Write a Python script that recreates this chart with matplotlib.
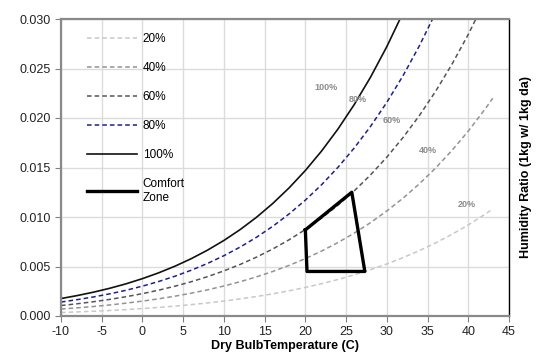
import matplotlib
matplotlib.use("Agg")
import matplotlib.pyplot as plt

plt.rcParams['font.family'] = ['Liberation Sans', 'DejaVu Sans']
plt.rcParams['axes.unicode_minus'] = False

temp = [-10, -8, -6, -4, -2, 0, 2, 4, 6, 8, 10, 12, 14, 16, 18, 20, 22, 24,
        26, 28, 30, 32, 34, 36, 38, 40, 42, 43]

w100 = [0.001764, 0.002065, 0.002409, 0.002803, 0.003254, 0.003775, 0.004364,
        0.005034, 0.005795, 0.006657, 0.007632, 0.008732, 0.009972, 0.011369,
        0.012938, 0.014699, 0.016673, 0.018884, 0.021358, 0.024122, 0.027210,
        0.030655]
w80 = [0.001410, 0.001651, 0.001926, 0.002241, 0.002601, 0.003016, 0.003487,
       0.004021, 0.004627, 0.005314, 0.006091, 0.006966, 0.007952, 0.009062,
       0.010308, 0.011704, 0.013267, 0.015016, 0.016970, 0.019149, 0.021579,
       0.024285, 0.027296, 0.030649]
w60 = [0.001057, 0.001237, 0.001443, 0.001679, 0.001949, 0.002259, 0.002611,
       0.003011, 0.003464, 0.003977, 0.004557, 0.005210, 0.005945, 0.006772,
       0.007699, 0.008737, 0.009898, 0.011194, 0.012641, 0.014252, 0.016045,
       0.018037, 0.020250, 0.022707, 0.025432, 0.028442, 0.031776]
w40 = [0.000704, 0.000824, 0.000961, 0.001118, 0.001298, 0.001504, 0.001738,
       0.002004, 0.002305, 0.002646, 0.003031, 0.003464, 0.003951, 0.004498,
       0.005111, 0.005797, 0.006564, 0.007419, 0.008371, 0.009429, 0.010605,
       0.011910, 0.013355, 0.014956, 0.016727, 0.018677, 0.020829, 0.021990]
w20 = [0.000352, 0.000412, 0.000480, 0.000559, 0.000648, 0.000751, 0.000868,
       0.001000, 0.001150, 0.001320, 0.001512, 0.001727, 0.001969, 0.002241,
       0.002545, 0.002885, 0.003265, 0.003687, 0.004157, 0.004679, 0.005258,
       0.005898, 0.006607, 0.007389, 0.008252, 0.009200, 0.010243, 0.010804]

comfort_t = [20.0, 25.7, 27.3, 20.2, 20.0]
comfort_w = [0.0087, 0.0125, 0.0045, 0.0045, 0.0087]

series_labels = ['20%', '40%', '60%', '80%', '100%']
label_pos_t = [39.8, 35.0, 30.6, 26.5, 22.5]
label_pos_w = [0.0113, 0.0167, 0.0197, 0.0219, 0.0231]

fig = plt.figure(figsize=(5.37, 3.63), dpi=100)
ax = fig.add_axes([61/537, 1 - 316/363, 448/537, 297/363])

dash = (0, (3.0, 2.0))
ax.plot(temp[:len(w20)], w20, color='#c8c8c8', lw=1.1, linestyle=dash, label='20%')
ax.plot(temp[:len(w40)], w40, color='#939393', lw=1.1, linestyle=dash, label='40%')
ax.plot(temp[:len(w60)], w60, color='#555555', lw=1.1, linestyle=dash, label='60%')
ax.plot(temp[:len(w80)], w80, color='#1f1f8c', lw=1.1, linestyle=dash, label='80%')
ax.plot(temp[:len(w100)], w100, color='#111111', lw=1.2, label='100%')
ax.plot(comfort_t, comfort_w, color='black', lw=2.4, label='Comfort\nZone')

for s, t, w in zip(series_labels, label_pos_t, label_pos_w):
    ax.text(t, w, s, fontsize=6.5, color='#8c8c8c', fontweight='bold',
            ha='center', va='center')

ax.set_xlim(-10, 45)
ax.set_ylim(0, 0.030)
ax.set_xticks(range(-10, 46, 5))
ax.set_yticks([0, 0.005, 0.010, 0.015, 0.020, 0.025, 0.030])
ax.set_yticklabels(['0.000', '0.005', '0.010', '0.015', '0.020', '0.025', '0.030'])
ax.grid(True, color='#dcdcdc', lw=1.0)
ax.set_axisbelow(True)
ax.tick_params(axis='both', labelsize=9, color='#808080', length=4, direction='out',
               labelcolor='#222222')

for side in ['left', 'bottom', 'top']:
    ax.spines[side].set_color('#8a8a8a')
    ax.spines[side].set_linewidth(1.6)
ax.spines['right'].set_color('black')
ax.spines['right'].set_linewidth(1.0)

ax.set_xlabel('Dry BulbTemperature (C)', fontsize=9, fontweight='bold', labelpad=1)
ax.yaxis.set_label_position('right')
ax.set_ylabel('Humidity Ratio (1kg w/ 1kg da)', fontsize=9, fontweight='bold',
              labelpad=8)

leg = ax.legend(loc='upper left', bbox_to_anchor=(0.035, 0.987), frameon=False,
                fontsize=8.5, handlelength=4.2, handletextpad=0.5,
                labelspacing=1.43)

fig.savefig('out.png', dpi=100)
